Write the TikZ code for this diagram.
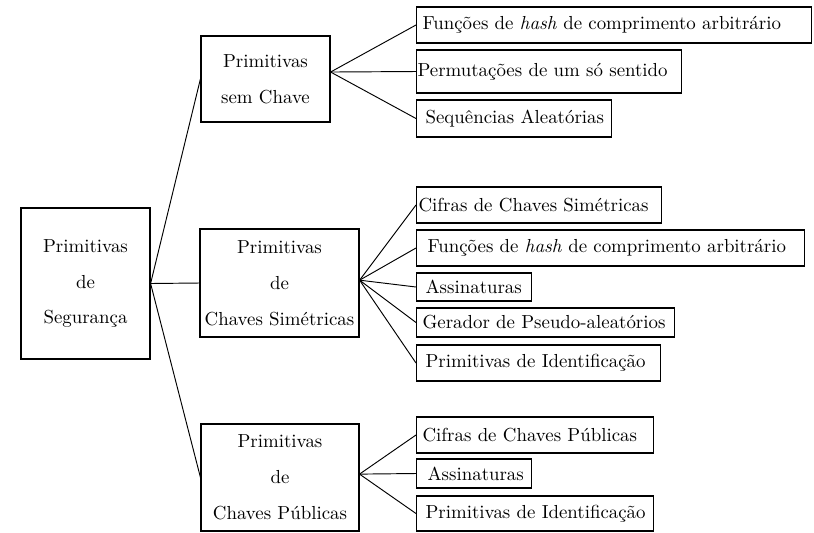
\documentclass[tikz,border=0pt]{standalone}
\usepackage{fontspec}
\newcommand\leafbox[3]{\makebox[\dimexpr0.53pt*#1\relax][l]{\hspace*{\dimexpr0.53pt*#2\relax}#3}}
\begin{document}
\begin{tikzpicture}[x=0.53pt,y=-0.53pt,
  box/.style={draw,line width=0.6pt,inner sep=0pt,align=center,font=\fontsize{10}{19}\selectfont},
  leaf/.style={draw,line width=0.6pt,inner sep=0pt,anchor=west},
  conn/.style={line width=0.5pt}]
\useasboundingbox (0,0) rectangle (814,532);
% main boxes
\node[box,minimum width=68.4pt,minimum height=80pt] (root) at (85.5,283.5) {Primitivas\\de\\Segurança};
\node[box,minimum width=68.4pt,minimum height=45.6pt] (sem) at (265.5,79) {Primitivas\\sem Chave};
\node[box,minimum width=84.3pt,minimum height=57.2pt] (sim) at (279.5,283) {Primitivas\\de\\Chaves Simétricas};
\node[box,minimum width=83.7pt,minimum height=56.7pt] (pub) at (280,477.5) {Primitivas\\de\\Chaves Públicas};
% leaves of sem
\node[leaf,minimum height=19.1pt] (l1) at (416,25) {\leafbox{395}{6}{Funções de \emph{hash} de comprimento arbitrário}};
\node[leaf,minimum height=22.8pt] (l2) at (416,71.5) {\leafbox{265}{1}{Permutações de um só sentido}};
\node[leaf,minimum height=19.6pt] (l3) at (416,118.5) {\leafbox{195}{9}{Sequências Aleatórias}};
% leaves of sim
\node[leaf,minimum height=19.1pt] (m1) at (416,205) {\leafbox{245}{2}{Cifras de Chaves Simétricas}};
\node[leaf,minimum height=19.1pt] (m2) at (416,248) {\leafbox{388}{11}{Funções de \emph{hash} de comprimento arbitrário}};
\node[leaf,minimum height=14.8pt] (m3) at (416,287) {\leafbox{115}{9}{Assinaturas}};
\node[leaf,minimum height=15.4pt] (m4) at (416,322.5) {\leafbox{258}{6}{Gerador de Pseudo-aleatórios}};
\node[leaf,minimum height=19.1pt] (m5) at (416,363) {\leafbox{244}{9}{Primitivas de Identificação}};
% leaves of pub
\node[leaf,minimum height=19.1pt] (p1) at (416,435) {\leafbox{237}{6}{Cifras de Chaves Públicas}};
\node[leaf,minimum height=15.4pt] (p2) at (416,473.5) {\leafbox{115}{11}{Assinaturas}};
\node[leaf,minimum height=18.6pt] (p3) at (416,513.5) {\leafbox{237}{9}{Primitivas de Identificação}};
% connectors
\draw[conn] (root.east) -- (sem.west);
\draw[conn] (root.east) -- (sim.west);
\draw[conn] (root.east) -- (pub.west);
\foreach \l in {l1,l2,l3} \draw[conn] ([yshift=3.7pt]sem.east) -- (\l.west);
\foreach \l in {m1,m2,m3,m4,m5} \draw[conn] ([yshift=1.5pt]sim.east) -- (\l.west);
\foreach \l in {p1,p2,p3} \draw[conn] ([yshift=1.8pt]pub.east) -- (\l.west);
\end{tikzpicture}
\end{document}
